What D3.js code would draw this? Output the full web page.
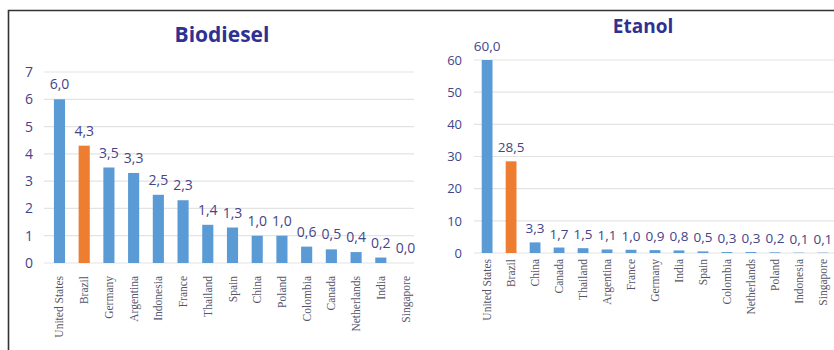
<!DOCTYPE html>
<html>
<head>
<meta charset="utf-8">
<script src="https://cdn.jsdelivr.net/npm/d3@7"></script>
<style>
  body { margin: 0; background: #fff; }
  svg { display: block; }
</style>
</head>
<body>
<div id="chart"></div>
<script>
const bioCountries = ["United States", "Brazil", "Germany", "Argentina", "Indonesia", "France", "Thailand", "Spain", "China", "Poland", "Colombia", "Canada", "Netherlands", "India", "Singapore"];
const bioValues = [6.0, 4.3, 3.5, 3.3, 2.5, 2.3, 1.4, 1.3, 1.0, 1.0, 0.6, 0.5, 0.4, 0.2, 0.0];
const bioTicks = [0, 1, 2, 3, 4, 5, 6, 7];

const etaCountries = ["United States", "Brazil", "China", "Canada", "Thailand", "Argentina", "France", "Germany", "India", "Spain", "Colombia", "Netherlands", "Poland", "Indonesia", "Singapore"];
const etaValues = [60.0, 28.5, 3.3, 1.7, 1.5, 1.1, 1.0, 0.9, 0.8, 0.5, 0.3, 0.3, 0.2, 0.1, 0.1];
const etaTicks = [0, 10, 20, 30, 40, 50, 60];

const W = 834, H = 350;
const blue = "#5b9bd5", orange = "#ed7d31";
const navy = "#2e3192", labelCol = "#44448a", catCol = "#55556a";
const fmt = v => d3.format(".1f")(v).replace(".", ",");

const svg = d3.select("#chart").append("svg").attr("width", W).attr("height", H);

// outer frame (left + top edges visible)
svg.append("path")
  .attr("d", `M8.5,${H} L8.5,10.5 L${W},10.5`)
  .attr("fill", "none").attr("stroke", "#333").attr("stroke-width", 1.6);

function drawChart(cfg) {
  const g = svg.append("g");
  const x = d3.scaleBand().domain(cfg.cats).range(cfg.xRange).paddingInner(0.55).paddingOuter(0.28);
  const y = d3.scaleLinear().domain([0, cfg.max]).range(cfg.yRange);

  // gridlines
  g.selectAll(".grid").data(cfg.ticks).join("line")
    .attr("x1", cfg.gridX[0]).attr("x2", cfg.gridX[1])
    .attr("y1", d => y(d)).attr("y2", d => y(d))
    .attr("stroke", "#e3e3e3").attr("stroke-width", 1.2);

  // y axis labels
  const ax = g.append("g").attr("transform", `translate(${cfg.axisX},0)`)
    .call(d3.axisLeft(y).tickValues(cfg.ticks).tickFormat(d3.format("d")).tickSize(0).tickPadding(0));
  ax.select(".domain").remove();
  ax.selectAll("text")
    .attr("font-family", "'Open Sans', sans-serif")
    .attr("font-size", cfg.tickFont).attr("fill", labelCol);

  // bars
  g.selectAll(".bar").data(cfg.vals).join("rect")
    .attr("x", (d, i) => x(cfg.cats[i]))
    .attr("width", x.bandwidth())
    .attr("y", d => y(d))
    .attr("height", d => y(0) - y(d))
    .attr("fill", (d, i) => cfg.cats[i] === "Brazil" ? orange : blue);

  // value labels
  g.selectAll(".val").data(cfg.vals).join("text")
    .attr("x", (d, i) => x(cfg.cats[i]) + x.bandwidth() / 2)
    .attr("y", d => y(d) - cfg.valGap)
    .attr("text-anchor", "middle")
    .attr("font-family", "'Open Sans', sans-serif")
    .attr("font-size", cfg.valFont).attr("fill", labelCol)
    .text(fmt);

  // category labels
  g.selectAll(".cat").data(cfg.cats).join("text")
    .attr("transform", d => `translate(${x(d) + x.bandwidth() / 2 + 4},${y(0) + cfg.catGap}) rotate(-90)`)
    .attr("text-anchor", "end")
    .attr("font-family", "'Liberation Serif', serif")
    .attr("font-size", 11.5).attr("fill", catCol)
    .text(d => d);

  // title
  svg.append("text")
    .attr("x", cfg.titleX).attr("y", cfg.titleY)
    .attr("text-anchor", "middle")
    .attr("font-family", "'Open Sans', sans-serif")
    .attr("font-weight", "bold")
    .attr("font-size", cfg.titleFont).attr("fill", navy)
    .text(cfg.title);
}

drawChart({
  title: "Biodiesel", titleX: 222, titleY: 42, titleFont: 21,
  cats: bioCountries, vals: bioValues, ticks: bioTicks, max: 7,
  xRange: [47, 418], yRange: [263, 72], gridX: [44, 414], axisX: 33,
  tickFont: 14, valFont: 14, valGap: 10, catGap: 13
});

drawChart({
  title: "Etanol", titleX: 643, titleY: 33, titleFont: 19,
  cats: etaCountries, vals: etaValues, ticks: etaTicks, max: 60,
  xRange: [475, 835], yRange: [253, 60], gridX: [474, 834], axisX: 462,
  tickFont: 13, valFont: 13.5, valGap: 9, catGap: 6
});
</script>
</body>
</html>
